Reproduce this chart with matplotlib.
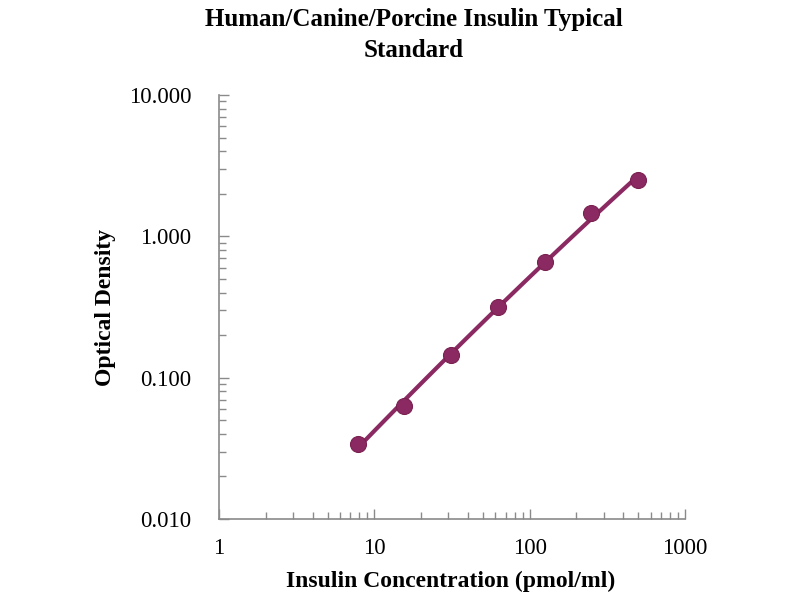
import numpy as np
import matplotlib
matplotlib.use("Agg")
import matplotlib.pyplot as plt
from matplotlib.ticker import FixedLocator, LogLocator, NullFormatter, FixedFormatter

# Data
concentration = [7.8, 15.6, 31.25, 62.5, 125, 250, 500]
optical_density = [0.034, 0.063, 0.144, 0.318, 0.662, 1.456, 2.51]
x_ticks = [1, 10, 100, 1000]
x_tick_labels = ["1", "10", "100", "1000"]
y_ticks = [0.01, 0.1, 1, 10]
y_tick_labels = ["0.010", "0.100", "1.000", "10.000"]

color = "#8B2A62"
serif = ["Liberation Serif", "DejaVu Serif"]

fig = plt.figure(figsize=(8, 6), dpi=100)
ax = fig.add_axes([0.27375, 0.135, 0.5825, 0.7067])

# fitted curve in log-log space
lx = np.log10(concentration)
ly = np.log10(optical_density)
coef = np.polyfit(lx, ly, 2)
xf = np.linspace(lx[0], lx[-1], 100)
ax.plot(10 ** xf, 10 ** np.polyval(coef, xf), color=color, lw=3.0, zorder=2)
ax.plot(concentration, optical_density, "o", color=color, ms=11.5, zorder=3,
        markeredgecolor="#7a2050", markeredgewidth=0.8)

ax.set_xscale("log")
ax.set_yscale("log")
ax.set_xlim(1, 1000)
ax.set_ylim(0.01, 10)

ax.xaxis.set_major_locator(FixedLocator(x_ticks))
ax.xaxis.set_major_formatter(FixedFormatter(x_tick_labels))
ax.yaxis.set_major_locator(FixedLocator(y_ticks))
ax.yaxis.set_major_formatter(FixedFormatter(y_tick_labels))
ax.xaxis.set_minor_locator(LogLocator(base=10, subs=np.arange(2, 10)))
ax.yaxis.set_minor_locator(LogLocator(base=10, subs=np.arange(2, 10)))
ax.xaxis.set_minor_formatter(NullFormatter())
ax.yaxis.set_minor_formatter(NullFormatter())

for s in ["top", "right"]:
    ax.spines[s].set_visible(False)
for s in ["left", "bottom"]:
    ax.spines[s].set_color("#8a8a8a")
    ax.spines[s].set_linewidth(1.2)

ax.tick_params(axis="both", which="both", direction="in", color="#8a8a8a", width=1.0)
ax.tick_params(axis="both", which="major", length=7)
ax.tick_params(axis="both", which="minor", length=5)
ax.tick_params(axis="y", which="major", pad=20)
ax.tick_params(axis="x", which="major", pad=14)

for lab in ax.get_xticklabels() + ax.get_yticklabels():
    lab.set_family(serif)
    lab.set_fontsize(16.5)

ax.set_xlabel("Insulin Concentration (pmol/ml)", family=serif, fontsize=17,
              fontweight="bold")
ax.xaxis.set_label_coords(0.498, -0.122)
ax.set_ylabel("Optical Density", family=serif, fontsize=17, fontweight="bold")
ax.yaxis.set_label_coords(-0.22, 0.5)
fig.text(0.5175, 0.987, "Human/Canine/Porcine Insulin Typical\nStandard",
         family=serif, fontsize=18, fontweight="bold", ha="center", va="top",
         linespacing=1.45)

fig.savefig("out.png", dpi=100)
